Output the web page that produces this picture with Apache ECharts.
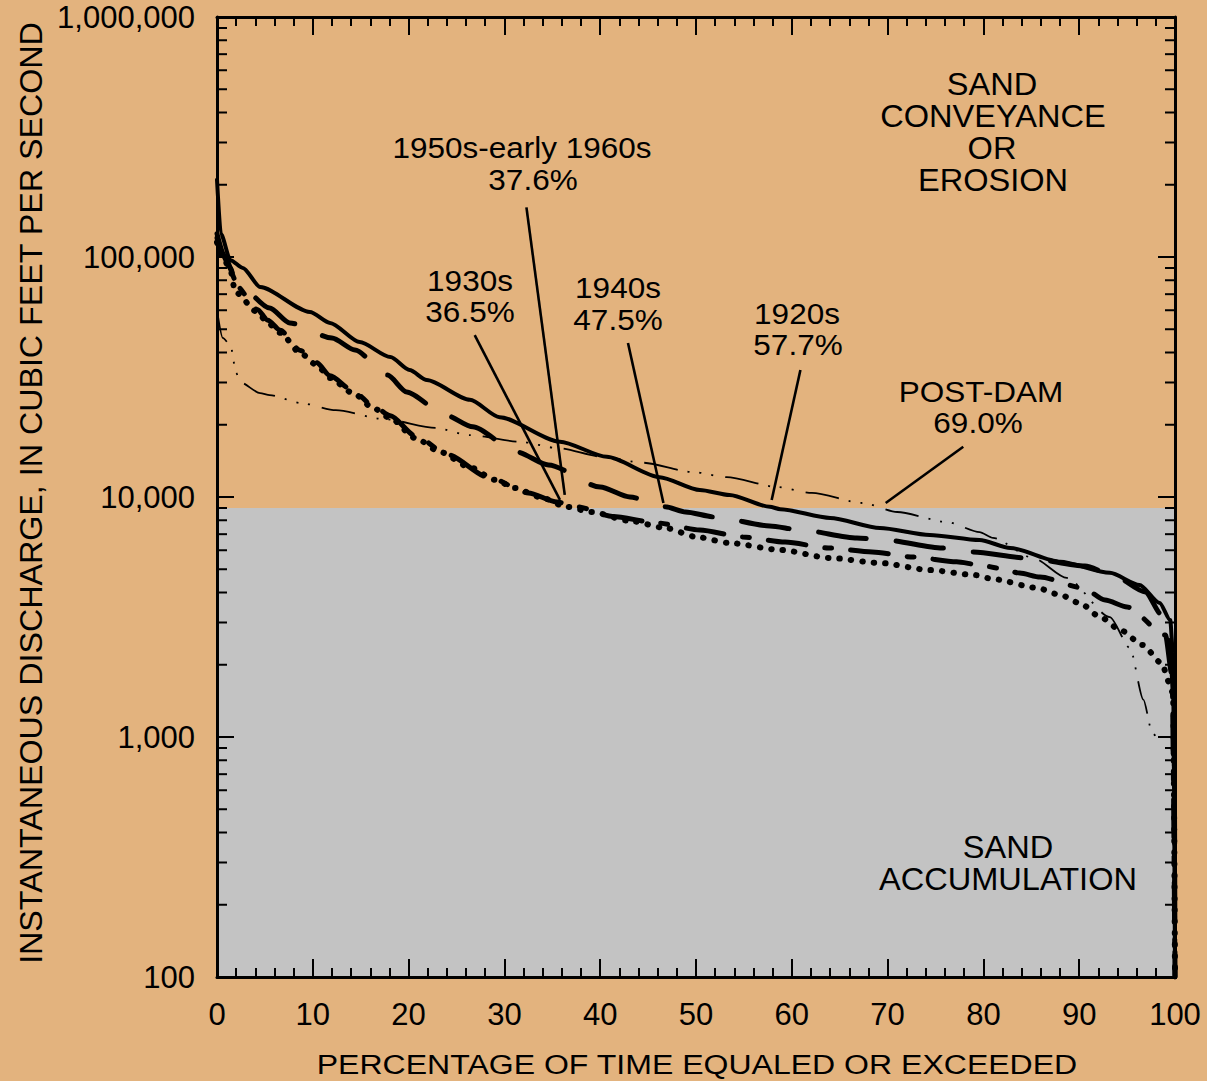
<!DOCTYPE html>
<html><head><meta charset="utf-8">
<script src="https://cdn.jsdelivr.net/npm/echarts@6/dist/echarts.min.js"></script>
<style>html,body{margin:0;padding:0;background:#E3B37E}#c{width:1207px;height:1081px}</style>
</head><body><div id="c"></div><script>
// ---------------- DATA ----------------
const Y_TICK_VALUES = [100, 1000, 10000, 100000, 1000000];
const Y_TICK_LABELS = ['100', '1,000', '10,000', '100,000', '1,000,000'];
const X_TICK_VALUES = [0, 10, 20, 30, 40, 50, 60, 70, 80, 90, 100];
const THRESHOLD = 9000; // sand accumulation below this discharge

const P_1920S = [0, 0.4, 1.4, 2.7, 4.5, 9.7, 11.8, 14.9, 18.1, 20.1, 21.9, 26.4, 29.5, 35.8, 40.7, 46.2, 50.4, 53.5, 57.7, 58.8, 64.0, 69.2, 74.4, 79.6, 82.8, 88.0, 93.2, 96.3, 98.4, 99.5, 99.8, 100];
const Q_1920S = [210000, 125000, 97000, 90000, 75000, 59000, 53100, 44200, 38300, 33800, 30700, 25400, 21500, 17000, 14700, 12100, 10700, 10200, 9100, 8900, 8180, 7430, 6950, 6620, 6130, 5370, 4830, 4300, 3620, 3070, 2200, 100];

const P_1930S = [0, 0.6, 1.4, 1.9, 4.2, 5.3, 6.6, 8.7, 10.4, 11.8, 14.2, 16.3, 18.1, 20.7, 23.3, 26.4, 29.0, 31.1, 33.7, 36.5, 39.1, 43.1, 46.8, 50.1, 53.5, 58.8, 64.0, 69.2, 74.4, 79.1, 81.0, 85.6, 88.0, 90.1, 92.2, 94.3, 96.6, 98.6, 99.5, 99.8, 100];
const Q_1930S = [115000, 100000, 88300, 71500, 59000, 53100, 48300, 39800, 35500, 31300, 27100, 23500, 21300, 17600, 15400, 13300, 11800, 10900, 10000, 9100, 8660, 7950, 7430, 6810, 6430, 6020, 5570, 5310, 4960, 4730, 4550, 4180, 3910, 3610, 3160, 2790, 2420, 2030, 1650, 1500, 100];

const P_1940S = [0, 0.8, 2.1, 5.5, 7.6, 12.0, 14.4, 17.8, 19.8, 23.8, 26.7, 31.3, 34.6, 40.0, 43.1, 46.8, 48.9, 52.0, 57.7, 60.9, 66.8, 69.7, 75.7, 78.8, 84.6, 90.6, 93.5, 96.9, 98.6, 99.5, 99.9, 100];
const Q_1940S = [125000, 100000, 77900, 61300, 53100, 46000, 41000, 32200, 27400, 22000, 19600, 15400, 13600, 11000, 10000, 9100, 8660, 8250, 7570, 7290, 6750, 6620, 6130, 5900, 5570, 5160, 4730, 4020, 3230, 2420, 1430, 100];

const P_1950S = [0, 0.5, 1.4, 2.0, 4.2, 5.3, 6.6, 8.7, 10.4, 11.8, 14.2, 16.3, 18.1, 20.7, 24.1, 28.3, 32.5, 35.5, 37.6, 41.3, 45.9, 50.4, 54.9, 59.3, 63.8, 68.4, 72.7, 77.2, 79.6, 81.5, 83.8, 85.9, 90.4, 92.7, 95.0, 99.0, 99.7, 100];
const Q_1950S = [120000, 104000, 90000, 76000, 60500, 54500, 49500, 40800, 36300, 32000, 27700, 24000, 21800, 18000, 15000, 12100, 10400, 9530, 9100, 8300, 7800, 7290, 6810, 6490, 6130, 5900, 5620, 5370, 5210, 5060, 4820, 4640, 4180, 3720, 3480, 2660, 1800, 100];

const P_POSTDAM = [0, 0.6, 1.4, 2.0, 2.4, 4.5, 5.5, 8.8, 12.4, 17.5, 22.8, 26.4, 31.6, 35.5, 40.3, 44.4, 49.7, 53.2, 58.5, 62.1, 67.4, 71.0, 76.2, 79.6, 81.0, 85.2, 88.7, 93.2, 95.3, 96.7, 97.6, 98.0];
const Q_POSTDAM = [60000, 46000, 43000, 32900, 30100, 27100, 26600, 24600, 23000, 21100, 19400, 18100, 17000, 16000, 14700, 13900, 12700, 12100, 11000, 10400, 9440, 8660, 7870, 7140, 6750, 5570, 4600, 3160, 2350, 1430, 1050, 1000];

// leader lines (percent, discharge) : label end -> curve end
const LEADER_1950S = [[32.3, 161000], [36.3, 10200]];
const LEADER_1930S = [[26.9, 47300], [35.8, 9720]];
const LEADER_1940S = [[42.9, 43800], [46.6, 9440]];
const LEADER_1920S = [[60.9, 33800], [57.9, 9720]];
const LEADER_POSTDAM = [[77.9, 16200], [69.8, 9440]];

// ---------------- LAYOUT / STYLE ----------------
const BG = '#E3B37E';
const GRAY = '#c3c3c3';
const FONT = '"Liberation Sans", Arial, sans-serif';

const TEXTS = [
  {t: '1950s-early 1960s', x: 522, y: 148, s: 30},
  {t: '37.6%', x: 533, y: 180, s: 30},
  {t: '1930s', x: 470, y: 281, s: 30},
  {t: '36.5%', x: 470, y: 312, s: 30},
  {t: '1940s', x: 618, y: 288, s: 30},
  {t: '47.5%', x: 618, y: 320, s: 30},
  {t: '1920s', x: 797, y: 314, s: 30},
  {t: '57.7%', x: 798, y: 345, s: 30},
  {t: 'POST-DAM', x: 981, y: 392, s: 30},
  {t: '69.0%', x: 978, y: 423, s: 30},
  {t: 'SAND', x: 992, y: 84, s: 31},
  {t: 'CONVEYANCE', x: 993, y: 116, s: 31},
  {t: 'OR', x: 992, y: 148, s: 31},
  {t: 'EROSION', x: 993, y: 180, s: 31},
  {t: 'SAND', x: 1008, y: 847, s: 31},
  {t: 'ACCUMULATION', x: 1008, y: 879, s: 31}
];

function zip(p, q) { return p.map((x, i) => [x, q[i]]); }
const yMinor = [];
for (let k = 2; k <= 5; k++) for (let m = 2; m <= 9; m++) yMinor.push([0, m * Math.pow(10, k)]);

const measure = (txt, size) => {
  const c = document.createElement('canvas').getContext('2d');
  c.font = size + 'px ' + FONT;
  return c.measureText(txt).width;
};
const YTITLE = 'INSTANTANEOUS DISCHARGE, IN CUBIC FEET PER SECOND';
const XTITLE = 'PERCENTAGE OF TIME EQUALED OR EXCEEDED';
const yTitleScale = 943 / measure(YTITLE, 31);
const xTitleScale = 761 / measure(XTITLE, 28);

function txt(t, x, y, size, extra) {
  return Object.assign({
    type: 'text', x: x, y: y, z: 100, scaleX: 1.05,
    style: {text: t, font: size + 'px ' + FONT, fill: '#000',
      textAlign: 'center', textVerticalAlign: 'middle', align: 'center', verticalAlign: 'middle'}
  }, extra || {});
}

const axisCommon = {
  z: 10,
  axisLine: {show: true, onZero: false, lineStyle: {color: '#000', width: 3}},
  splitLine: {show: false},
  minorSplitLine: {show: false}
};

const lineBase = {type: 'line', showSymbol: false, symbol: 'none', z: 3, silent: true,
  smooth: 0.25, smoothMonotone: 'x', animation: false};

function leader(d) {
  return {type: 'line', data: d, showSymbol: false, symbol: 'none', z: 4, silent: true, animation: false,
    lineStyle: {color: '#000', width: 2.6}};
}

const chart = echarts.init(document.getElementById('c'), null, {renderer: 'svg'});
chart.setOption({
  backgroundColor: BG,
  animation: false,
  grid: {left: 217, top: 17, right: 32, bottom: 104, show: false},
  xAxis: [
    Object.assign({}, axisCommon, {
      type: 'value', min: 0, max: 100, interval: 10, position: 'bottom',
      axisTick: {show: true, inside: true, length: 18, lineStyle: {color: '#000', width: 2}},
      minorTick: {show: true, splitNumber: 5, length: 9, lineStyle: {color: '#000', width: 2}},
      axisLabel: {margin: 22, fontSize: 31, color: '#000', fontFamily: FONT,
        formatter: v => X_TICK_VALUES.includes(v) ? String(v) : ''}
    }),
    Object.assign({}, axisCommon, {
      type: 'value', min: 0, max: 100, interval: 10, position: 'top',
      axisTick: {show: true, inside: true, length: 18, lineStyle: {color: '#000', width: 2}},
      minorTick: {show: true, splitNumber: 5, length: 9, lineStyle: {color: '#000', width: 2}},
      axisLabel: {show: false}
    })
  ],
  yAxis: [
    Object.assign({}, axisCommon, {
      type: 'log', logBase: 10, min: 100, max: 1000000, position: 'left',
      axisTick: {show: true, inside: true, length: 17, lineStyle: {color: '#000', width: 2}},
      minorTick: {show: false},
      axisLabel: {margin: 22, fontSize: 31, color: '#000', fontFamily: FONT,
        formatter: v => { const i = Y_TICK_VALUES.findIndex(t => Math.abs(t - v) / t < 1e-6); return i >= 0 ? Y_TICK_LABELS[i] : ''; }}
    }),
    Object.assign({}, axisCommon, {
      type: 'log', logBase: 10, min: 100, max: 1000000, position: 'right',
      axisTick: {show: true, inside: true, length: 17, lineStyle: {color: '#000', width: 2}},
      minorTick: {show: false},
      axisLabel: {show: false}
    })
  ],
  series: [
    {type: 'line', data: [], z: 1, silent: true, animation: false,
      markArea: {silent: true, itemStyle: {color: GRAY, opacity: 1},
        data: [[{yAxis: 100}, {yAxis: THRESHOLD}]]}},
    {type: 'custom', z: 11, silent: true, animation: false, data: yMinor,
      encode: {x: 0, y: 1},
      renderItem: function (params, api) {
        const v = api.value(1);
        const l = api.coord([0, v]);
        const r = api.coord([100, v]);
        const st = {stroke: '#000', lineWidth: 2};
        return {type: 'group', children: [
          {type: 'line', shape: {x1: l[0], y1: l[1], x2: l[0] + 10, y2: l[1]}, style: st},
          {type: 'line', shape: {x1: r[0] - 10, y1: r[1], x2: r[0], y2: r[1]}, style: st}
        ]};
      }},
    Object.assign({}, lineBase, {name: 'POST-DAM', data: zip(P_POSTDAM, Q_POSTDAM),
      lineStyle: {color: '#000', width: 1.8, type: [34, 10, 2, 10, 2, 10, 2, 12], cap: 'butt'}}),
    Object.assign({}, lineBase, {name: '1930s', data: zip(P_1930S, Q_1930S),
      lineStyle: {color: '#000', width: 6, type: [0.5, 11], cap: 'round'}}),
    Object.assign({}, lineBase, {name: '1950s-early 1960s', data: zip(P_1950S, Q_1950S),
      lineStyle: {color: '#000', width: 5, type: [38, 19, 7, 19], cap: 'round'}}),
    Object.assign({}, lineBase, {name: '1940s', data: zip(P_1940S, Q_1940S),
      lineStyle: {color: '#000', width: 5, type: [48, 30], cap: 'round'}}),
    Object.assign({}, lineBase, {name: '1920s', data: zip(P_1920S, Q_1920S),
      lineStyle: {color: '#000', width: 4, cap: 'round', join: 'round'}}),
    leader(LEADER_1950S), leader(LEADER_1930S), leader(LEADER_1940S), leader(LEADER_1920S), leader(LEADER_POSTDAM)
  ],
  graphic: TEXTS.map(o => txt(o.t, o.x, o.y, o.s)).concat([
    txt(YTITLE, 31, 493, 31, {rotation: Math.PI / 2, scaleX: yTitleScale}),
    txt(XTITLE, 697, 1064, 28, {scaleX: xTitleScale})
  ])
});
</script></body></html>
